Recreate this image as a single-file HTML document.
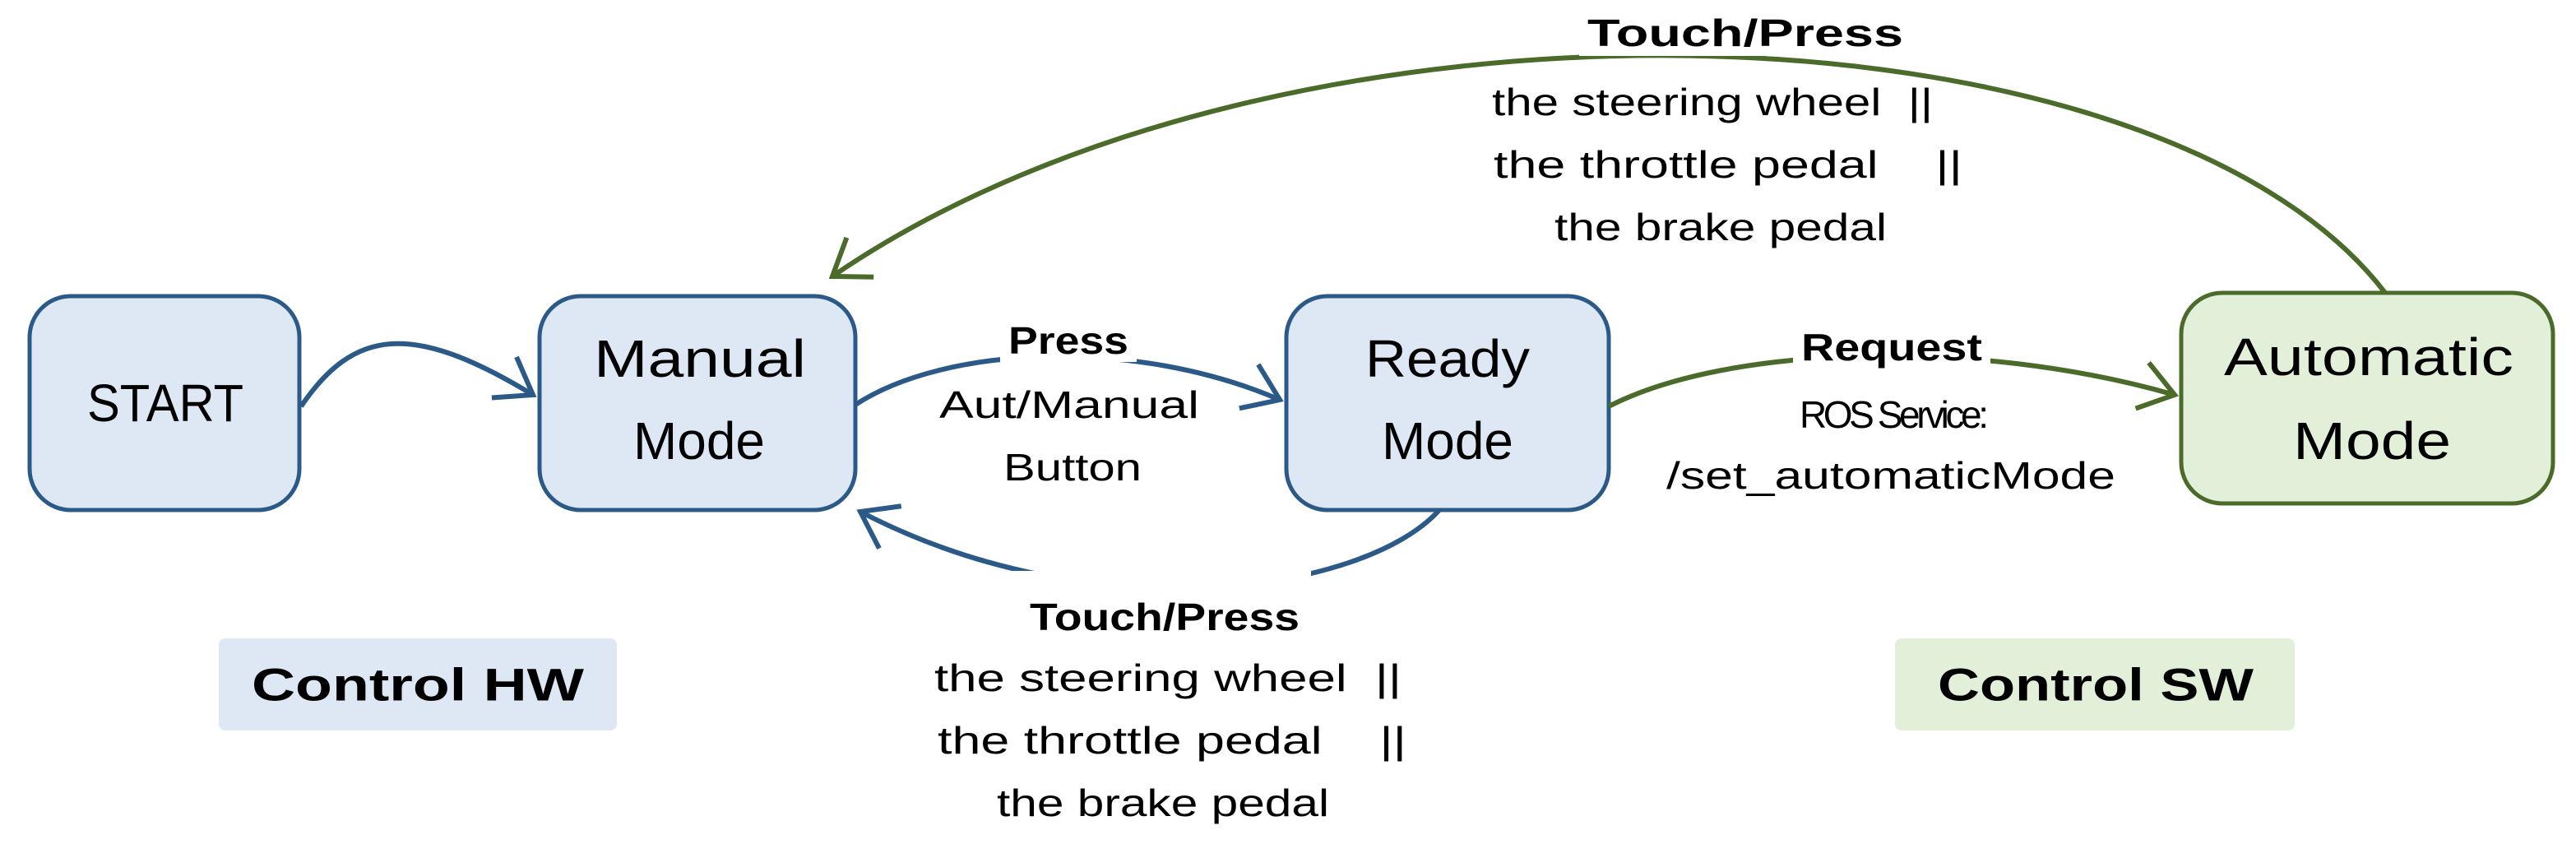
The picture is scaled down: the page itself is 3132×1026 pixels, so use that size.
<!DOCTYPE html>
<html><head><meta charset="utf-8"><style>html,body{margin:0;padding:0;background:#fff}svg{display:block}</style></head>
<body>
<svg width="3132" height="1026" viewBox="0 0 3132 1026" xmlns="http://www.w3.org/2000/svg" font-family="Liberation Sans, sans-serif">
<defs>
<marker id="ab" markerWidth="14" markerHeight="14" refX="11" refY="7" orient="auto" markerUnits="userSpaceOnUse" viewBox="0 0 14 14" style="overflow:visible">
<polyline points="-30,-22 11,7 -30,36" fill="none" stroke="#2c5a88" stroke-width="6"/>
</marker>
<marker id="ag" markerWidth="14" markerHeight="14" refX="11" refY="7" orient="auto" markerUnits="userSpaceOnUse" viewBox="0 0 14 14" style="overflow:visible">
<polyline points="-30,-22 11,7 -30,36" fill="none" stroke="#4b6b2b" stroke-width="6"/>
</marker>
</defs>
<rect x="266" y="776" width="484" height="112" rx="8" fill="#dde8f4"/>
<rect x="2304" y="776" width="486" height="112" rx="8" fill="#e2efd9"/>
<rect x="36" y="360" width="328" height="260" rx="50" fill="#dde8f4" stroke="#2c5a88" stroke-width="5"/>
<rect x="656" y="360" width="384" height="260" rx="50" fill="#dde8f4" stroke="#2c5a88" stroke-width="5"/>
<rect x="1564" y="360" width="392" height="260" rx="50" fill="#dde8f4" stroke="#2c5a88" stroke-width="5"/>
<rect x="2652" y="356" width="452" height="256" rx="50" fill="#e2efd9" stroke="#4b6b2b" stroke-width="5"/>
<path d="M366,494 C430,400 500,390 648,480" fill="none" stroke="#2c5a88" stroke-width="6" marker-end="url(#ab)"/>
<path d="M1040,492 C1150,420 1380,410 1556,486" fill="none" stroke="#2c5a88" stroke-width="6" marker-end="url(#ab)"/>
<path d="M1750,620 C1660,720 1330,770 1046,622" fill="none" stroke="#2c5a88" stroke-width="6" marker-end="url(#ab)"/>
<path d="M1956,494 C2100,420 2400,410 2644,480" fill="none" stroke="#4b6b2b" stroke-width="6" marker-end="url(#ag)"/>
<path d="M2900,356 C2620,-10 1560,-40 1012,336" fill="none" stroke="#4b6b2b" stroke-width="6" marker-end="url(#ag)"/>
<rect x="1216" y="388" width="166" height="52" fill="#fff"/>
<rect x="2180" y="392" width="240" height="56" fill="#fff"/>
<rect x="1222" y="694" width="372" height="84" fill="#fff"/>
<rect x="1920" y="12" width="404" height="56" fill="#fff"/>
<g fill="#000" dominant-baseline="central">
<text x="106" y="490" font-size="64" textLength="190" lengthAdjust="spacingAndGlyphs">START</text>
<text x="722" y="436" font-size="64" textLength="258" lengthAdjust="spacingAndGlyphs">Manual</text>
<text x="770" y="536" font-size="64" textLength="160" lengthAdjust="spacingAndGlyphs">Mode</text>
<text x="1660" y="436" font-size="64" textLength="200" lengthAdjust="spacingAndGlyphs">Ready</text>
<text x="1680" y="536" font-size="64" textLength="160" lengthAdjust="spacingAndGlyphs">Mode</text>
<text x="2704" y="434" font-size="64" textLength="352" lengthAdjust="spacingAndGlyphs">Automatic</text>
<text x="2788" y="536" font-size="64" textLength="192" lengthAdjust="spacingAndGlyphs">Mode</text>
<text x="306" y="832" font-size="56" font-weight="bold" textLength="404" lengthAdjust="spacingAndGlyphs">Control HW</text>
<text x="2356" y="832" font-size="56" font-weight="bold" textLength="384" lengthAdjust="spacingAndGlyphs">Control SW</text>
<text x="1226" y="414" font-size="46" font-weight="bold" textLength="146" lengthAdjust="spacingAndGlyphs">Press</text>
<text x="1142" y="492" font-size="46" textLength="316" lengthAdjust="spacingAndGlyphs">Aut/Manual</text>
<text x="1220" y="568" font-size="46" textLength="168" lengthAdjust="spacingAndGlyphs">Button</text>
<text x="2190" y="422" font-size="46" font-weight="bold" textLength="220" lengthAdjust="spacingAndGlyphs">Request</text>
<text x="2188" y="504" font-size="46" textLength="230" lengthAdjust="spacing">ROS Service:</text>
<text x="2026" y="578" font-size="46" textLength="546" lengthAdjust="spacingAndGlyphs">/set_automaticMode</text>
<text x="1930" y="40" font-size="46" font-weight="bold" textLength="384" lengthAdjust="spacingAndGlyphs">Touch/Press</text>
<text x="1814" y="124" font-size="46" textLength="536" lengthAdjust="spacingAndGlyphs">the steering wheel &#160;||</text>
<text x="1816" y="200" font-size="46" textLength="570" lengthAdjust="spacingAndGlyphs">the throttle pedal &#160;&#160;&#160;||</text>
<text x="1890" y="276" font-size="46" textLength="404" lengthAdjust="spacingAndGlyphs">the brake pedal</text>
<text x="1252" y="750" font-size="46" font-weight="bold" textLength="328" lengthAdjust="spacingAndGlyphs">Touch/Press</text>
<text x="1136" y="824" font-size="46" textLength="568" lengthAdjust="spacingAndGlyphs">the steering wheel &#160;||</text>
<text x="1140" y="900" font-size="46" textLength="570" lengthAdjust="spacingAndGlyphs">the throttle pedal &#160;&#160;&#160;||</text>
<text x="1212" y="976" font-size="46" textLength="404" lengthAdjust="spacingAndGlyphs">the brake pedal</text>
</g>
</svg>
</body></html>
